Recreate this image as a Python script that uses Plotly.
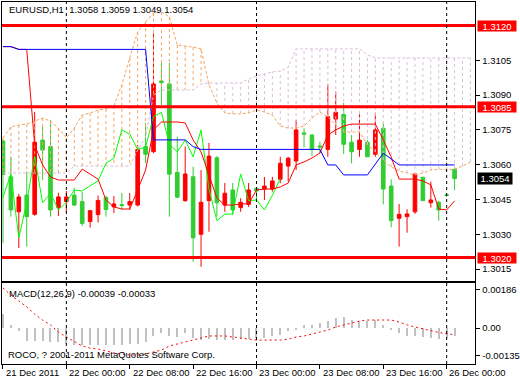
import plotly.graph_objects as go

# ---------------- data ----------------
bars = list(range(58))  # H1 bars from 21 Dec 16:00 to 26 Dec 01:00
opens = [1.30702, 1.30548, 1.30397, 1.30469, 1.30386, 1.30706, 1.30678, 1.30416, 1.30441, 1.30469,
         1.30441, 1.30355, 1.30385, 1.30459, 1.30418, 1.30428, 1.30426, 1.30426, 1.30678, 1.30656,
         1.30961, 1.30948, 1.30567, 1.30445, 1.30548, 1.30300, 1.30445, 1.30630, 1.30426, 1.30491,
         1.30415, 1.30429, 1.30498, 1.30495, 1.30495, 1.30537, 1.30594, 1.30616, 1.30737, 1.30728,
         1.30681, 1.30666, 1.30797, 1.30817, 1.30697, 1.30666, 1.30697, 1.30645, 1.30757, 1.30508,
         1.30369, 1.30376, 1.30397, 1.30546, 1.30436, 1.30438, 1.30470, 1.30580]
highs = [1.30710, 1.30634, 1.30474, 1.30570, 1.30828, 1.30764, 1.30793, 1.30479, 1.30487, 1.30500,
         1.30482, 1.30405, 1.30467, 1.30465, 1.30465, 1.30478, 1.30478, 1.30685, 1.30780, 1.31178,
         1.31038, 1.31038, 1.30721, 1.30678, 1.30591, 1.30577, 1.30694, 1.30637, 1.30521, 1.30521,
         1.30456, 1.30521, 1.30504, 1.30547, 1.30548, 1.30634, 1.30634, 1.30793, 1.30757, 1.30732,
         1.30699, 1.30948, 1.30915, 1.30866, 1.30728, 1.30817, 1.30706, 1.30824, 1.30778, 1.30537,
         1.30431, 1.30408, 1.30560, 1.30547, 1.30527, 1.30445, 1.30474, 1.30590]
lows = [1.30263, 1.30376, 1.30241, 1.30247, 1.30380, 1.30534, 1.30376, 1.30379, 1.30396, 1.30422,
        1.30336, 1.30329, 1.30351, 1.30376, 1.30392, 1.30405, 1.30405, 1.30420, 1.30607, 1.30650,
        1.30857, 1.30376, 1.30456, 1.30440, 1.30182, 1.30160, 1.30311, 1.30376, 1.30397, 1.30383,
        1.30397, 1.30418, 1.30448, 1.30448, 1.30484, 1.30520, 1.30527, 1.30577, 1.30675, 1.30637,
        1.30649, 1.30634, 1.30728, 1.30646, 1.30606, 1.30634, 1.30633, 1.30634, 1.30429, 1.30330,
        1.30247, 1.30307, 1.30388, 1.30445, 1.30415, 1.30359, 1.30462, 1.30490]
closes = [1.30558, 1.30405, 1.30461, 1.30376, 1.30697, 1.30663, 1.30405, 1.30461, 1.30461, 1.30426,
          1.30347, 1.30402, 1.30446, 1.30407, 1.30431, 1.30424, 1.30441, 1.30666, 1.30645, 1.30948,
          1.30954, 1.30559, 1.30460, 1.30560, 1.30285, 1.30438, 1.30637, 1.30436, 1.30477, 1.30405,
          1.30438, 1.30491, 1.30487, 1.30508, 1.30530, 1.30606, 1.30628, 1.30750, 1.30732, 1.30666,
          1.30676, 1.30807, 1.30826, 1.30688, 1.30656, 1.30706, 1.30634, 1.30750, 1.30495, 1.30359,
          1.30386, 1.30388, 1.30560, 1.30445, 1.30448, 1.30405, 1.30468, 1.30540]

tenkan = [1.31109, 1.31109, 1.31097, 1.31097, 1.30685, 1.30599, 1.30547, 1.30534, 1.30534, 1.30534,
          1.30581, 1.30560, 1.30538, 1.30448, 1.30418, 1.30409, 1.30409, 1.30491, 1.30577, 1.30750,
          1.30784, 1.30784, 1.30784, 1.30780, 1.30707, 1.30655, 1.30556, 1.30456, 1.30426, 1.30426,
          1.30431, 1.30431, 1.30491, 1.30495, 1.30495, 1.30504, 1.30521, 1.30599, 1.30612, 1.30629,
          1.30650, 1.30728, 1.30750, 1.30767, 1.30775, 1.30775, 1.30775, 1.30775, 1.30707, 1.30633,
          1.30538, 1.30538, 1.30538, 1.30530, 1.30513, 1.30409, 1.30405, 1.30444]
kijun = [1.31109, 1.31109, 1.31097, 1.31097, 1.31097, 1.31097, 1.31097, 1.31097, 1.31097, 1.31097,
         1.31097, 1.31097, 1.31097, 1.31097, 1.31097, 1.31097, 1.31097, 1.31097, 1.31097, 1.30707,
         1.30707, 1.30707, 1.30707, 1.30707, 1.30678, 1.30666, 1.30666, 1.30666, 1.30666, 1.30666,
         1.30666, 1.30666, 1.30666, 1.30666, 1.30666, 1.30666, 1.30666, 1.30666, 1.30666, 1.30666,
         1.30666, 1.30599, 1.30599, 1.30556, 1.30556, 1.30556, 1.30556, 1.30603, 1.30649, 1.30625,
         1.30599, 1.30599, 1.30599, 1.30599, 1.30599, 1.30599, 1.30599, 1.30599]
chikou = [1.30460, 1.30560, 1.30285, 1.30438, 1.30637, 1.30436, 1.30477, 1.30405, 1.30438, 1.30491,
          1.30487, 1.30508, 1.30530, 1.30606, 1.30628, 1.30750, 1.30732, 1.30666, 1.30676, 1.30807,
          1.30826, 1.30688, 1.30656, 1.30706, 1.30634, 1.30750, 1.30495, 1.30359, 1.30386, 1.30388,
          1.30560, 1.30445, 1.30448, 1.30405, 1.30468, 1.30540]
span_a = [1.30715, 1.30763, 1.30771, 1.30775, 1.30788, 1.30801, 1.30788, 1.30758, 1.30715, 1.30758,
          1.30814, 1.30823, 1.30836, 1.30840, 1.30853, 1.30944, 1.31060, 1.31172, 1.31215, 1.31254,
          1.31258, 1.31237, 1.31116, 1.31112, 1.31107, 1.31099, 1.30944, 1.30866, 1.30823, 1.30819,
          1.30819, 1.30823, 1.30836, 1.30827, 1.30814, 1.30767, 1.30758, 1.30758, 1.30767, 1.30801,
          1.30827, 1.30806, 1.30771, 1.30741, 1.30741, 1.30741, 1.30685, 1.30655, 1.30620, 1.30590,
          1.30573, 1.30564, 1.30556, 1.30564, 1.30577, 1.30581, 1.30577, 1.30581, 1.30594, 1.30612]
span_b = [1.30564, 1.30564, 1.30564, 1.30564, 1.30564, 1.30564, 1.30564, 1.30564, 1.30564, 1.30594,
          1.30594, 1.30594, 1.30594, 1.30594, 1.30594, 1.30594, 1.30594, 1.30663, 1.30719, 1.30900,
          1.30922, 1.30922, 1.30922, 1.30922, 1.30922, 1.30948, 1.30952, 1.30952, 1.30952, 1.30952,
          1.30952, 1.30969, 1.30982, 1.30991, 1.31000, 1.31004, 1.31021, 1.31099, 1.31099, 1.31099,
          1.31099, 1.31099, 1.31099, 1.31099, 1.31099, 1.31099, 1.31073, 1.31060, 1.31060, 1.31060,
          1.31060, 1.31060, 1.31060, 1.31060, 1.31060, 1.31060, 1.31060, 1.31060, 1.31060, 1.31060]
macd_main = [0.00068, 0.00015, -0.00015, -0.00064, -0.00064, -0.00064, -0.00068, -0.00068, -0.00078, -0.00083,
             -0.00083, -0.00083, -0.00083, -0.00083, -0.00083, -0.00083, -0.00078, -0.00078, -0.00068, -0.00039,
             -0.00024, -0.00039, -0.00044, -0.00024, -0.00049, -0.00059, -0.00054, -0.00059, -0.00059, -0.00059,
             -0.00054, -0.00054, -0.00049, -0.00049, -0.00039, -0.00034, -0.00015, -0.00005, 0.00015, 0.00015,
             0.00024, 0.00034, 0.00049, 0.00054, 0.00039, 0.00034, 0.00034, 0.00039, 0.00015, -0.00005,
             -0.00024, -0.00039, -0.00039, -0.00044, -0.00049, -0.00054, -0.00049, -0.00039]
macd_signal = [0.00196, 0.00161, 0.00132, 0.00103, 0.00068, 0.00039, 0.00015, -0.00020, -0.00044, -0.00068,
               -0.00088, -0.00098, -0.00103, -0.00112, -0.00122, -0.00127, -0.00132, -0.00132, -0.00127, -0.00117,
               -0.00108, -0.00088, -0.00078, -0.00068, -0.00059, -0.00049, -0.00039, -0.00039, -0.00039, -0.00044,
               -0.00049, -0.00054, -0.00059, -0.00059, -0.00059, -0.00059, -0.00054, -0.00044, -0.00039, -0.00029,
               -0.00020, -0.00010, 0.00005, 0.00015, 0.00024, 0.00034, 0.00039, 0.00039, 0.00039, 0.00039,
               0.00029, 0.00015, 0.00005, -0.00005, -0.00015, -0.00022, -0.00028, -0.00033]

time_ticks = [0, 8, 16, 24, 32, 40, 48, 56]
time_labels = ["21 Dec 2011", "22 Dec 00:00", "22 Dec 08:00", "22 Dec 16:00",
               "23 Dec 00:00", "23 Dec 08:00", "23 Dec 16:00", "26 Dec 00:00"]
day_separators = [8, 32, 56]
price_ticks = [1.3105, 1.3090, 1.3075, 1.3060, 1.3045, 1.3030, 1.3015]
level_lines = [1.3120, 1.3085, 1.3020]
last_price = 1.3054
macd_ticks = [0.00186, 0.0, -0.00135]
macd_tick_text = ["0.00186", "0.00", "-0.00135"]
header = "EURUSD,H1  1.3058 1.3059 1.3049 1.3054"
macd_title = "MACD(12,26,9) -0.00039 -0.00033"
copyright_text = "ROCO, ? 2001-2011 MetaQuotes Software Corp."

# ---------------- styling ----------------
W, H = 520, 380
FONT = "Liberation Sans"
FS = 9.5
X_DOM = [2 / W, 480 / W]
MAIN_DOM = [1 - 281 / H, 1 - 2 / H]
MACD_DOM = [1 - 364 / H, 1 - 283 / H]
X_RANGE = [-0.125, 59.625]
Y_RANGE = [1.300987, 1.313013]
Y2_RANGE = [-0.00176, 0.00220]
UP = "#FF0000"
DOWN = "#32CD32"

fig = go.Figure()

# Kumo hatching
n_span = len(span_a)
hx_up, hy_up, hx_dn, hy_dn = [], [], [], []
for i in range(n_span):
    if span_a[i] >= span_b[i]:
        hx_up += [i, i, None]
        hy_up += [span_a[i], span_b[i], None]
    else:
        hx_dn += [i, i, None]
        hy_dn += [span_a[i], span_b[i], None]
fig.add_trace(go.Scatter(x=hx_up, y=hy_up, mode="lines",
                         line=dict(color="#F4A460", width=1, dash="3px,3px"), hoverinfo="skip"))
fig.add_trace(go.Scatter(x=hx_dn, y=hy_dn, mode="lines",
                         line=dict(color="#D8BFD8", width=1, dash="3px,3px"), hoverinfo="skip"))
fig.add_trace(go.Scatter(x=list(range(n_span)), y=span_a, mode="lines",
                         line=dict(color="#F4A460", width=1, dash="3px,2px")))
fig.add_trace(go.Scatter(x=list(range(n_span)), y=span_b, mode="lines",
                         line=dict(color="#D8BFD8", width=1, dash="3px,2px")))
fig.add_trace(go.Scatter(x=list(range(len(chikou))), y=chikou, mode="lines",
                         line=dict(color="#00FF00", width=1)))
fig.add_trace(go.Scatter(x=bars, y=tenkan, mode="lines", line=dict(color="#FF0000", width=1)))
fig.add_trace(go.Scatter(x=bars, y=kijun, mode="lines", line=dict(color="#0000FF", width=1)))

fig.add_trace(go.Candlestick(
    x=bars, open=opens, high=highs, low=lows, close=closes,
    increasing=dict(line=dict(color=UP, width=1), fillcolor=UP),
    decreasing=dict(line=dict(color=DOWN, width=1), fillcolor=DOWN),
    whiskerwidth=0, xaxis="x", yaxis="y"))

# MACD panel
fig.add_trace(go.Bar(x=bars, y=macd_main, marker=dict(color="#C0C0C0", line=dict(width=0)),
                     width=0.14, xaxis="x2", yaxis="y2"))
fig.add_trace(go.Scatter(x=bars, y=macd_signal, mode="lines", xaxis="x2", yaxis="y2",
                         line=dict(color="#FF0000", width=1, dash="2px,3px")))

axis_common = dict(showline=True, mirror=True, linecolor="black", linewidth=1,
                   showgrid=False, zeroline=False)
fig.update_layout(
    width=W, height=H, margin=dict(l=0, r=0, t=0, b=0),
    paper_bgcolor="white", plot_bgcolor="white", showlegend=False,
    boxgap=0.35,
    font=dict(family=FONT, size=FS, color="black"),
    xaxis=dict(domain=X_DOM, range=X_RANGE, anchor="y", showticklabels=False,
               rangeslider=dict(visible=False), **axis_common),
    yaxis=dict(domain=MAIN_DOM, range=Y_RANGE, anchor="x", side="right",
               tickvals=price_ticks, ticktext=[f"{v:.4f}" for v in price_ticks],
               ticks="outside", ticklen=4, tickcolor="black",
               tickfont=dict(family=FONT, size=FS, color="black"), **axis_common),
    xaxis2=dict(domain=X_DOM, range=X_RANGE, anchor="y2", showticklabels=False,
                tickvals=time_ticks, ticks="outside", ticklen=4, tickcolor="black",
                **axis_common),
    yaxis2=dict(domain=MACD_DOM, range=Y2_RANGE, anchor="x2", side="right",
                tickvals=macd_ticks, ticktext=macd_tick_text,
                ticks="outside", ticklen=4, tickcolor="black",
                tickfont=dict(family=FONT, size=FS, color="black"), **axis_common),
)

shapes = []
for lv in level_lines:
    shapes.append(dict(type="line", xref="x domain", x0=0, x1=1, yref="y", y0=lv, y1=lv,
                       line=dict(color="#FF0000", width=3)))
for sep in day_separators:
    shapes.append(dict(type="line", xref="x", x0=sep, x1=sep, yref="paper",
                       y0=MACD_DOM[0], y1=MAIN_DOM[1],
                       line=dict(color="black", width=1, dash="3px,3px")))
fig.update_layout(shapes=shapes)

ann = []
ann.append(dict(text=header, xref="paper", x=7 / W, xanchor="left", yref="paper",
                y=1 - 10 / H, yanchor="middle", showarrow=False,
                font=dict(family=FONT, size=FS, color="black")))
ann.append(dict(text=macd_title, xref="paper", x=7 / W, xanchor="left", yref="paper",
                y=1 - 293 / H, yanchor="middle", showarrow=False,
                font=dict(family=FONT, size=FS, color="black")))
ann.append(dict(text=copyright_text, xref="paper", x=6 / W, xanchor="left", yref="paper",
                y=1 - 354 / H, yanchor="middle", showarrow=False,
                font=dict(family=FONT, size=FS, color="black")))
for t, lab in zip(time_ticks, time_labels):
    ann.append(dict(text=lab, xref="x2", x=t + 0.1, xanchor="left", yref="paper",
                    y=1 - 372 / H, yanchor="middle", showarrow=False,
                    font=dict(family=FONT, size=FS, color="black")))
for lv in level_lines:
    ann.append(dict(text=f"{lv:.4f}", xref="paper", x=481.5 / W, xanchor="left",
                    yref="y", y=lv, yanchor="middle", showarrow=False,
                    bgcolor="#FF0000", width=38, height=10, borderpad=0,
                    font=dict(family=FONT, size=FS, color="white")))
ann.append(dict(text=f"{last_price:.4f}", xref="paper", x=481.5 / W, xanchor="left",
                yref="y", y=last_price, yanchor="middle", showarrow=False,
                bgcolor="black", width=34, height=11, borderpad=0,
                font=dict(family=FONT, size=FS, color="white")))
fig.update_layout(annotations=ann)

fig.write_html("out.html")
